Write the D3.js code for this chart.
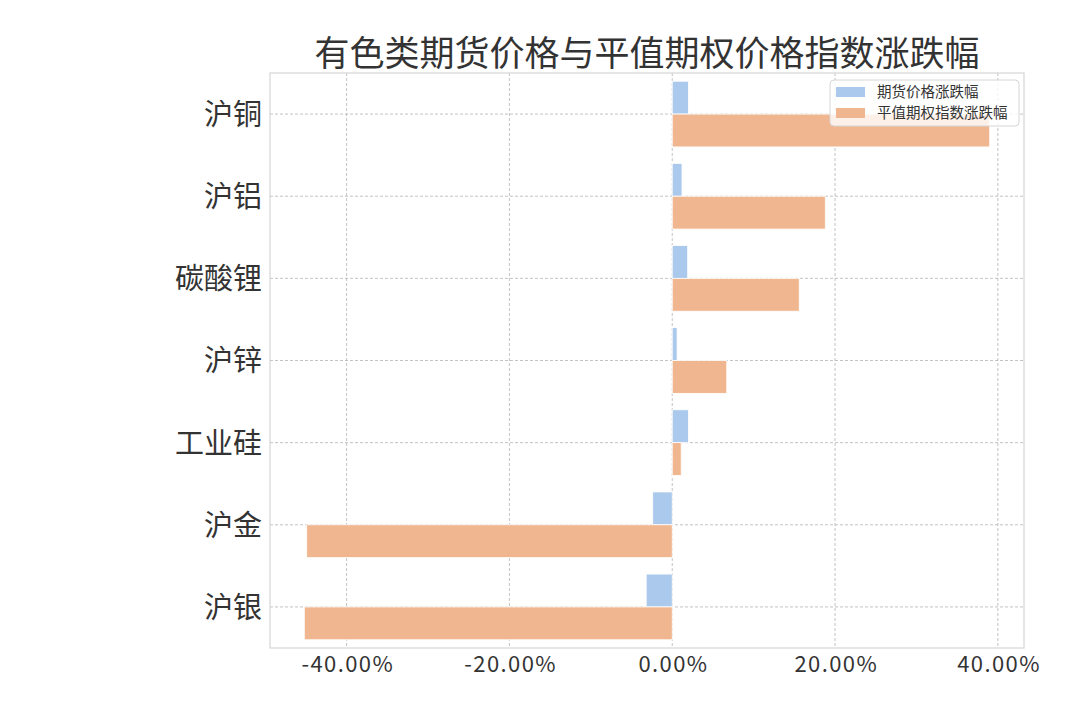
<!DOCTYPE html>
<html>
<head>
<meta charset="utf-8">
<script src="https://cdn.jsdelivr.net/npm/d3@7"></script>
<style>
  html, body { margin: 0; padding: 0; background: #ffffff; }
  svg { display: block; }
  text { font-family: "Noto Sans CJK SC", "Noto Sans", sans-serif; fill: #333333; }
</style>
</head>
<body>
<svg id="chart" width="1080" height="720"></svg>
<script>
const title = "有色类期货价格与平值期权价格指数涨跌幅";
const categories = ["沪铜", "沪铝", "碳酸锂", "沪锌", "工业硅", "沪金", "沪银"];
const futuresChange = [2.0, 1.2, 1.9, 0.6, 2.0, -2.4, -3.2];
const optionIndexChange = [39.0, 18.8, 15.6, 6.7, 1.1, -44.9, -45.2];
const seriesNames = ["期货价格涨跌幅", "平值期权指数涨跌幅"];
const xTickValues = [-40, -20, 0, 20, 40];

const colors = ["#abc9ec", "#f0b690"];

const svg = d3.select("#chart");
const plot = { left: 270, right: 1024, top: 73, bottom: 648 };

const allVals = futuresChange.concat(optionIndexChange, [0]);
const vmin = d3.min(allVals), vmax = d3.max(allVals);
const pad = (vmax - vmin) * 0.05;
const x = d3.scaleLinear().domain([vmin - pad, vmax + pad]).range([plot.left, plot.right]);
const y = d3.scaleLinear().domain([-0.5, categories.length - 0.5]).range([plot.top, plot.bottom]);
const barH = 0.4;

// grid
const grid = svg.append("g");
grid.selectAll("line.v").data(xTickValues).join("line")
  .attr("x1", d => x(d)).attr("x2", d => x(d))
  .attr("y1", plot.top).attr("y2", plot.bottom)
  .attr("stroke", "#b4b4b4").attr("stroke-width", 0.8).attr("stroke-dasharray", "3,2");
grid.selectAll("line.h").data(categories).join("line")
  .attr("x1", plot.left).attr("x2", plot.right)
  .attr("y1", (d, i) => y(i)).attr("y2", (d, i) => y(i))
  .attr("stroke", "#b4b4b4").attr("stroke-width", 0.8).attr("stroke-dasharray", "3,2");

// bars
const bars = svg.append("g");
bars.selectAll("rect.f").data(futuresChange).join("rect")
  .attr("x", d => x(Math.min(0, d)))
  .attr("width", d => Math.abs(x(d) - x(0)))
  .attr("y", (d, i) => y(i - barH))
  .attr("height", y(barH) - y(0))
  .attr("fill", colors[0]).attr("stroke", "#ffffff").attr("stroke-width", 0.8);
bars.selectAll("rect.o").data(optionIndexChange).join("rect")
  .attr("x", d => x(Math.min(0, d)))
  .attr("width", d => Math.abs(x(d) - x(0)))
  .attr("y", (d, i) => y(i))
  .attr("height", y(barH) - y(0))
  .attr("fill", colors[1]).attr("stroke", "#ffffff").attr("stroke-width", 0.8);

// frame
svg.append("rect")
  .attr("x", plot.left).attr("y", plot.top)
  .attr("width", plot.right - plot.left).attr("height", plot.bottom - plot.top)
  .attr("fill", "none").attr("stroke", "#d6d6d6").attr("stroke-width", 1.2);

// x axis
const xAxis = d3.axisBottom(x).tickValues(xTickValues).tickSize(0).tickPadding(0)
  .tickFormat(d => (d < 0 ? "-" : "") + Math.abs(d).toFixed(2) + "%");
const gx = svg.append("g").attr("transform", `translate(0,${plot.bottom})`).call(xAxis);
gx.select(".domain").remove();
gx.selectAll("text").attr("dy", 0).attr("y", 24).attr("dx", "0.7")
  .style("font-size", "22px").style("letter-spacing", "1.4px").style("fill", "#333333");

// y axis
const yAxis = d3.axisLeft(y).tickValues(d3.range(categories.length)).tickSize(0).tickPadding(8)
  .tickFormat(i => categories[i]);
const gy = svg.append("g").attr("transform", `translate(${plot.left},0)`).call(yAxis);
gy.select(".domain").remove();
gy.selectAll("text").attr("dy", "0.36em")
  .style("font-size", "29px").style("fill", "#333333");

// title
svg.append("text")
  .attr("x", (plot.left + plot.right) / 2).attr("y", 66)
  .attr("text-anchor", "middle")
  .style("font-size", "35px").style("fill", "#333333")
  .text(title);

// legend
const lg = svg.append("g").attr("transform", "translate(830,80)");
lg.append("rect").attr("x", 0).attr("y", 0).attr("width", 189).attr("height", 46)
  .attr("rx", 4).attr("ry", 4)
  .attr("fill", "#ffffff").attr("fill-opacity", 0.8)
  .attr("stroke", "#d6d6d6").attr("stroke-width", 1);
seriesNames.forEach((name, i) => {
  const row = lg.append("g").attr("transform", `translate(0,${12 + i * 21})`);
  row.append("rect").attr("x", 6).attr("y", -5).attr("width", 29).attr("height", 10)
    .attr("fill", colors[i]);
  row.append("text").attr("x", 47).attr("y", 0).attr("dy", "0.35em")
    .style("font-size", "14.5px").style("fill", "#333333").text(name);
});
</script>
</body>
</html>
